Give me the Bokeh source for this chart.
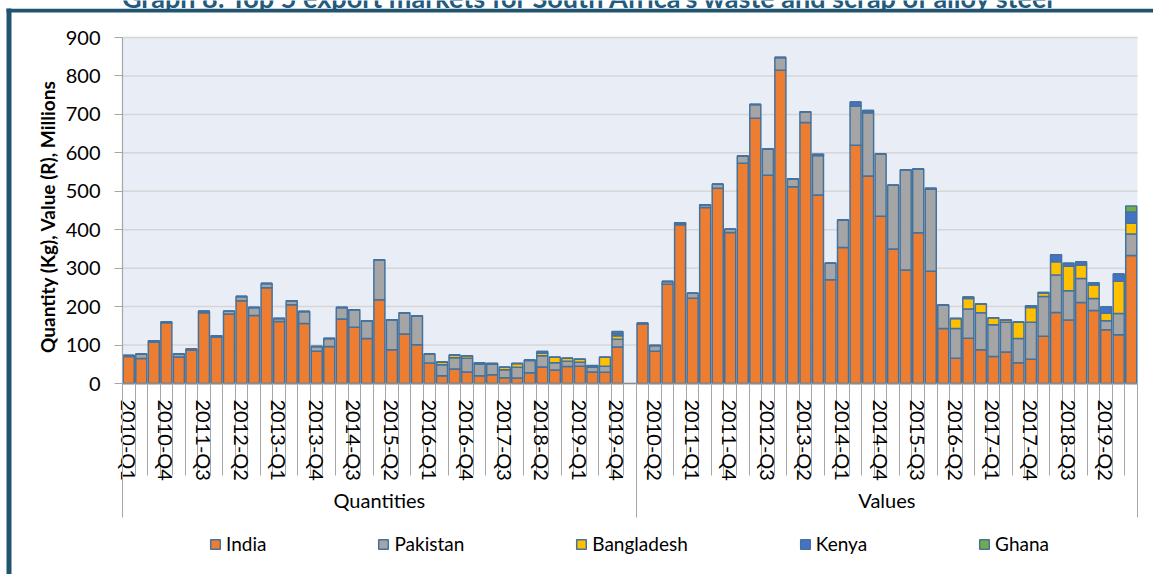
import math
from bokeh.plotting import figure
from bokeh.models import (ColumnDataSource, Range1d, LinearAxis, FixedTicker, Legend,
                          LegendItem, BoxAnnotation, Label)
from bokeh.embed import file_html
from bokeh.resources import INLINE

# ---------------- data ----------------
quarters = [f"{y}-Q{q}" for y in range(2010, 2020) for q in range(1, 5)]
groups = ["Quantities", "Values"]
series = ["India", "Pakistan", "Bangladesh", "Kenya", "Ghana"]

india_q = [70, 65, 107, 158, 69, 87, 184, 121, 181, 215,
           177, 249, 161, 205, 156, 84, 96, 168, 146, 117,
           218, 88, 129, 101, 53, 20, 38, 30, 20, 23,
           15, 14, 28, 43, 35, 44, 45, 30, 29, 95]
pakistan_q = [3, 12, 4, 2, 8, 3, 4, 3, 7, 11,
              21, 11, 8, 10, 31, 12, 21, 30, 46, 46,
              104, 78, 55, 75, 24, 29, 29, 36, 30, 27,
              21, 28, 32, 29, 19, 14, 10, 13, 16, 20]
bangladesh_q = [0, 0, 0, 0, 0, 0, 0, 0, 0, 0,
                0, 0, 0, 0, 0, 0, 0, 0, 0, 0,
                0, 0, 0, 0, 0, 7, 7, 6, 4, 2,
                6, 10, 1, 7, 14, 8, 8, 0, 23, 9]
kenya_q = [0, 0, 0, 0, 0, 0, 0, 0, 0, 0,
           0, 0, 0, 0, 0, 0, 0, 0, 0, 0,
           0, 0, 0, 0, 0, 0, 0, 0, 0, 0,
           0, 0, 0, 4, 0, 0, 0, 2, 0, 7]
ghana_q = [0, 0, 0, 0, 0, 0, 0, 0, 0, 0,
           0, 0, 0, 0, 0, 0, 0, 0, 0, 0,
           0, 0, 0, 0, 0, 0, 0, 0, 0, 0,
           0, 0, 0, 0, 0, 0, 0, 2, 0, 4]

india_v = [155, 84, 258, 413, 222, 458, 508, 393, 573, 690,
           542, 815, 512, 679, 490, 270, 354, 620, 540, 435,
           350, 295, 392, 292, 143, 66, 118, 88, 70, 82,
           54, 63, 123, 185, 165, 211, 190, 140, 127, 333]
pakistan_v = [2, 15, 7, 2, 13, 7, 10, 8, 19, 36,
              68, 33, 20, 28, 103, 43, 71, 102, 164, 162,
              166, 261, 166, 214, 61, 77, 76, 96, 83, 77,
              63, 96, 103, 97, 76, 62, 31, 23, 55, 56]
bangladesh_v = [0, 0, 0, 0, 0, 0, 0, 0, 0, 0,
                0, 0, 0, 0, 0, 0, 0, 0, 0, 0,
                0, 0, 0, 0, 0, 26, 27, 23, 18, 6,
                43, 39, 9, 35, 64, 35, 35, 20, 84, 28]
kenya_v = [0, 0, 0, 3, 0, 0, 0, 0, 0, 0,
           0, 0, 0, 0, 3, 0, 0, 10, 6, 0,
           0, 0, 0, 2, 0, 0, 4, 0, 0, 0,
           0, 4, 2, 18, 8, 9, 6, 16, 19, 29]
ghana_v = [0, 0, 0, 0, 0, 0, 0, 0, 0, 0,
           0, 0, 0, 0, 0, 0, 0, 0, 0, 0,
           0, 0, 0, 0, 0, 0, 0, 0, 0, 0,
           0, 0, 0, 0, 0, 0, 0, 0, 0, 16]

y_ticks = [0, 100, 200, 300, 400, 500, 600, 700, 800, 900]

title_text = "Graph 8: Top 5 export markets for South Africa's waste and scrap of alloy steel"
y_title = "Quantity (Kg), Value (R), Millions"

# ---------------- styles / layout (pixels) ----------------
colors = ["#ED7D31", "#A5A5A5", "#FFC000", "#4472C4", "#70AD47"]
OUTLINE = "#44729F"
PLOT_BG = "#E9EDF5"
GRID = "#D6D6D6"
AXIS = "#8C8C8C"
TICK = "#A6A6A6"
FRAME_COL = "#21546F"
TITLE_COL = "#245A7C"
FONT = "Lato"

WIDTH, HEIGHT = 1153, 574
PLOT_LEFT, PLOT_RIGHT, PLOT_TOP, PLOT_BOTTOM = 122, 1137, 37, 383
Y_MAX = 900

n = len(quarters)
gap = 1
n_slots = 2 * n + gap

sx = (PLOT_RIGHT - PLOT_LEFT) / n_slots        # px per category slot
sy = (PLOT_BOTTOM - PLOT_TOP) / Y_MAX          # px per value unit


def dx(px):   # canvas x pixel -> data x
    return (px - PLOT_LEFT) / sx


def dy(px):   # canvas y pixel -> data y
    return (PLOT_BOTTOM - px) / sy


x_q = [i + 0.5 for i in range(n)]
x_v = [n + gap + i + 0.5 for i in range(n)]
slot_names = quarters + [""] + quarters

source = ColumnDataSource(dict(
    x=x_q + x_v,
    India=india_q + india_v,
    Pakistan=pakistan_q + pakistan_v,
    Bangladesh=bangladesh_q + bangladesh_v,
    Kenya=kenya_q + kenya_v,
    Ghana=ghana_q + ghana_v,
))

p = figure(width=WIDTH, height=HEIGHT, output_backend="svg", toolbar_location=None,
           x_range=Range1d(dx(0), dx(WIDTH)), y_range=Range1d(dy(HEIGHT), dy(0)),
           x_axis_location=None, y_axis_location=None,
           min_border=0, min_border_left=0, min_border_right=0,
           min_border_top=0, min_border_bottom=0)
p.background_fill_color = "white"
p.border_fill_color = "white"
p.outline_line_color = None
p.grid.visible = False

# plot-area background
p.add_layout(BoxAnnotation(left=0, right=n_slots, bottom=0, top=Y_MAX,
                           fill_color=PLOT_BG, fill_alpha=1, line_color=None, level="image"))

# horizontal gridlines
p.segment(x0=0, x1=n_slots, y0=y_ticks, y1=y_ticks, line_color=GRID, line_width=1.5,
          level="underlay")

# bars
renderers = p.vbar_stack(series, x="x", width=0.88, color=colors, source=source,
                         line_color=OUTLINE, line_width=1.5)

# y axis
yax = LinearAxis(fixed_location=0, bounds=(0, Y_MAX),
                 ticker=FixedTicker(ticks=y_ticks, minor_ticks=[]),
                 axis_line_color=TICK, axis_line_width=1.2,
                 major_tick_line_color=TICK, major_tick_out=8, major_tick_in=0,
                 minor_tick_line_color=None,
                 major_label_standoff=14,
                 major_label_text_font=FONT, major_label_text_font_size="20px",
                 major_label_text_color="#000000")
p.add_layout(yax, "left")

# category axis (quarters)
label_pos = [j + 0.5 for j in range(0, n_slots, 3)]
overrides = {j + 0.5: slot_names[j] for j in range(0, n_slots, 3)}
CAT_TICK = 92
xax = LinearAxis(fixed_location=0, bounds=(0, n_slots),
                 ticker=FixedTicker(ticks=label_pos, minor_ticks=list(range(0, n_slots + 1))),
                 major_label_overrides=overrides,
                 major_label_orientation=-math.pi / 2,
                 major_tick_line_color=None, major_tick_out=0, major_tick_in=0,
                 minor_tick_line_color=TICK, minor_tick_out=CAT_TICK, minor_tick_in=0,
                 axis_line_color=AXIS, axis_line_width=1.5,
                 major_label_standoff=16 - CAT_TICK,
                 major_label_text_font=FONT, major_label_text_font_size="20px",
                 major_label_text_color="#000000")
p.add_layout(xax, "below")

# group axis (Quantities / Values)
GRP_TICK = 134
grp_pos = [(n + gap) / 2, n + gap + n // 2]
grp_overrides = {grp_pos[0]: groups[0], grp_pos[1]: groups[1]}
gax = LinearAxis(fixed_location=0, bounds=(0, n_slots),
                 ticker=FixedTicker(ticks=grp_pos, minor_ticks=[0, n + gap, n_slots]),
                 major_label_overrides=grp_overrides,
                 major_tick_line_color=None, major_tick_out=0, major_tick_in=0,
                 minor_tick_line_color=TICK, minor_tick_out=GRP_TICK, minor_tick_in=0,
                 axis_line_color=None,
                 major_label_standoff=104 - GRP_TICK,
                 major_label_text_font=FONT, major_label_text_font_size="20px",
                 major_label_text_color="#000000")
p.add_layout(gax, "below")

# y axis title
p.add_layout(Label(x=dx(47), y=dy(216), text=y_title, angle=math.pi / 2,
                   text_align="center", text_baseline="middle",
                   text_font=FONT, text_font_style="bold", text_font_size="19px",
                   text_color="#000000"))

# chart title (cut off by the top edge, as in the source)
p.add_layout(Label(x=dx(589), y=dy(-3.5), text=title_text,
                   text_align="center", text_baseline="alphabetic",
                   text_font=FONT, text_font_style="bold", text_font_size="27px",
                   text_color=TITLE_COL))

# frame lines of the surrounding box
p.add_layout(BoxAnnotation(left=dx(6), right=dx(11), top=dy(8), bottom=None,
                           fill_color=FRAME_COL, fill_alpha=1, line_color=None))
p.add_layout(BoxAnnotation(left=dx(6), right=None, top=dy(8.3), bottom=dy(12),
                           fill_color=FRAME_COL, fill_alpha=1, line_color=None))

# legend
legend = Legend(items=[LegendItem(label=s, renderers=[r]) for s, r in zip(series, renderers)],
                location=(209, 19), orientation="horizontal",
                glyph_width=12, glyph_height=12, label_standoff=5, spacing=111,
                padding=0, margin=0, border_line_color=None, background_fill_alpha=0,
                label_text_font=FONT, label_text_font_size="19px", label_text_color="#000000")
p.add_layout(legend)

open("out.html", "w").write(file_html(p, INLINE))
